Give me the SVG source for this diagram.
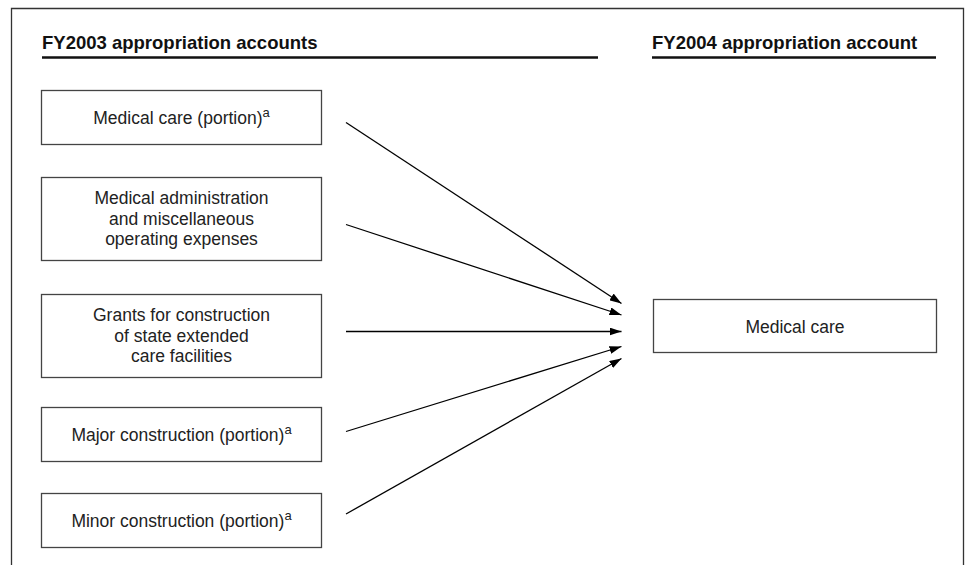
<svg xmlns="http://www.w3.org/2000/svg" width="967" height="565" viewBox="0 0 967 565">
<style>
.frame{fill:none;stroke:#333;stroke-width:1.3}
.box{fill:#fff;stroke:#444;stroke-width:1.3}
.t{font-family:"Liberation Sans",Arial,sans-serif;font-size:17.5px;fill:#222;text-anchor:middle}
.h{font-family:"Liberation Sans",Arial,sans-serif;font-size:18.5px;font-weight:bold;fill:#111}
.sup{font-size:13px}
.rule{stroke:#111;stroke-width:2.5}
.conn{stroke:#000;stroke-width:1.3;fill:none;marker-end:url(#ah)}
</style>
<defs>
<marker id="ah" viewBox="0 0 12 8" refX="12" refY="4" markerWidth="12" markerHeight="8" markerUnits="userSpaceOnUse" orient="auto">
<path d="M0,0 L12,4 L0,8 Z" fill="#000"/>
</marker>
</defs>
<rect width="967" height="565" fill="#fff"/>
<path class="frame" d="M11.5,570 V8.5 H963.5 V570"/>
<g id="headings">
<text class="h" x="42" y="49">FY2003 appropriation accounts</text>
<line class="rule" x1="42" y1="57.5" x2="598" y2="57.5"/>
<text class="h" x="652" y="49">FY2004 appropriation account</text>
<line class="rule" x1="652" y1="57.5" x2="936" y2="57.5"/>
</g>
<g id="n1">
<rect class="box" x="41.5" y="90.5" width="280" height="54"/>
<text class="t" x="181.5" y="124">Medical care (portion)<tspan class="sup" dy="-7">a</tspan></text>
</g>
<g id="n2">
<rect class="box" x="41.5" y="177.5" width="280" height="83"/>
<text class="t" x="181.5" y="204">Medical administration</text>
<text class="t" x="181.5" y="224.5">and miscellaneous</text>
<text class="t" x="181.5" y="245">operating expenses</text>
</g>
<g id="n3">
<rect class="box" x="41.5" y="294.5" width="280" height="83"/>
<text class="t" x="181.5" y="321">Grants for construction</text>
<text class="t" x="181.5" y="341.5">of state extended</text>
<text class="t" x="181.5" y="362">care facilities</text>
</g>
<g id="n4">
<rect class="box" x="41.5" y="407.5" width="280" height="54"/>
<text class="t" x="181.5" y="441">Major construction (portion)<tspan class="sup" dy="-7">a</tspan></text>
</g>
<g id="n5">
<rect class="box" x="41.5" y="493.5" width="280" height="54"/>
<text class="t" x="181.5" y="527">Minor construction (portion)<tspan class="sup" dy="-7">a</tspan></text>
</g>
<g id="n6">
<rect class="box" x="653.5" y="299.5" width="283" height="53"/>
<text class="t" x="795" y="332.5">Medical care</text>
</g>
<g id="connectors">
<line class="conn" x1="346" y1="122.5" x2="621.5" y2="303.5"/>
<line class="conn" x1="346" y1="224.5" x2="621.5" y2="315"/>
<line class="conn" x1="346" y1="331.5" x2="621.5" y2="331.5"/>
<line class="conn" x1="346" y1="431.5" x2="621.5" y2="346.5"/>
<line class="conn" x1="346" y1="514" x2="621.5" y2="358.5"/>
</g>
</svg>
